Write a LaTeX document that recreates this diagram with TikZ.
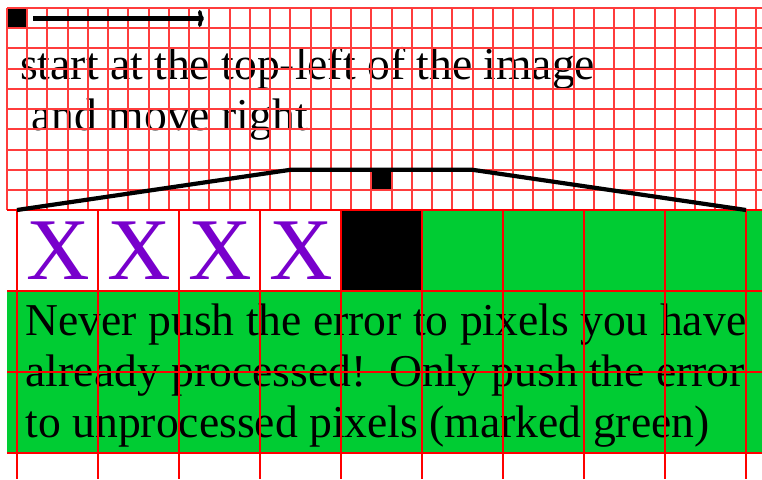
\documentclass[tikz,border=0pt]{standalone}
\usepackage{fontspec}
\setmainfont{Liberation Serif}
\usetikzlibrary{arrows.meta}
\definecolor{pxgreen}{RGB}{0,204,51}
\definecolor{pxpurple}{RGB}{120,0,204}
\definecolor{lightred}{RGB}{255,60,60}
\begin{document}
\begin{tikzpicture}[x=1pt,y=-1pt,
  smallgrid/.style={draw=lightred, line width=1.6pt},
  biggrid/.style={draw=red, line width=1.6pt},
  bigcell/.style={minimum size=81pt, inner sep=0pt, outer sep=0pt},
  xcell/.style={bigcell, text=pxpurple, font=\fontsize{88}{92}\selectfont},
  pixel/.style={fill=black, minimum size=20.24pt, inner sep=0pt, outer sep=0pt},
  caption/.style={anchor=base west, inner sep=0pt, font=\fontsize{45.6}{52}\selectfont},
  thick line/.style={draw=black, line width=4.2pt}]
\useasboundingbox (0,0) rectangle (762,479);
% fills
\fill[pxgreen] (7,291.5) rectangle (762,453.5);
\fill[pxgreen] (422.2,210.5) rectangle (762,291.5);
% cells of the processed row
\node[xcell] (x1) at (58.5,251) {X};
\node[xcell] (x2) at (139.5,251) {X};
\node[xcell] (x3) at (220.4,251) {X};
\node[xcell] (x4) at (301.4,251) {X};
\node[bigcell, fill=black] (cur) at (381.7,251) {};
% small pixels
\node[pixel] (startpx) at (17.12,18.12) {};
\node[pixel] (curpx) at (381.44,180.04) {};
% texts
\node[caption] (t1) at (20,79) {start at the top-left of the image};
\node[caption] (t2) at (31.4,130) {and move right};
\node[caption] (b1) at (25.5,335) {Never push the error to pixels you have};
\node[caption] (b2) at (25.5,386) {already processed!\ \ Only push the error};
\node[caption] (b3) at (25.5,437) {to unprocessed pixels (marked green)};
% small grid
\foreach \k in {0,...,37} {
  \pgfmathsetmacro\gx{round(7+\k*20.24)}
  \draw[smallgrid] (\gx,8) -- (\gx,210.4);
}
\foreach \j in {0,...,10} {
  \pgfmathsetmacro\gy{round(8+\j*20.24)}
  \draw[smallgrid] (7,\gy) -- (762,\gy);
}
% big grid
\foreach \k in {0,...,9} {
  \pgfmathsetmacro\gx{round(17.3+\k*80.97)}
  \draw[biggrid] (\gx,210) -- (\gx,479);
}
\foreach \y in {210,291,372,453} \draw[biggrid] (7,\y) -- (762,\y);
% arrow
\coordinate (arrowstart) at (33,18.5);
\coordinate (arrowend) at (204,18.5);
\draw[thick line, -{Computer Modern Rightarrow[length=6pt,width=17pt,line width=3.6pt]}] (arrowstart) -- (arrowend);
% zoom trapezoid
\coordinate (zl) at (17,210);
\coordinate (ztl) at (290.4,169.8);
\coordinate (ztr) at (472.5,169.8);
\coordinate (zr) at (746,210);
\draw[thick line, line join=round] (zl) -- (ztl) -- (ztr) -- (zr);
\end{tikzpicture}
\end{document}
